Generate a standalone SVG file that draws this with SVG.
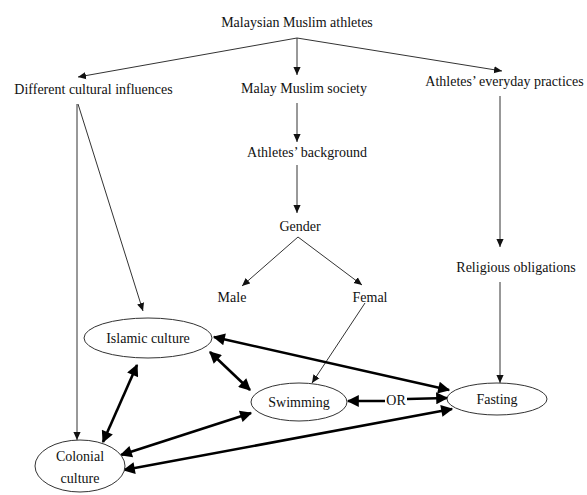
<svg xmlns="http://www.w3.org/2000/svg" width="587" height="495" viewBox="0 0 587 495">
<style>
text{font-family:'Liberation Serif','Times New Roman','DejaVu Serif',serif;font-size:14px;fill:#111;text-anchor:middle}
.thin{stroke:#333;stroke-width:1;fill:none}
.thick{stroke:#000;stroke-width:2.6;fill:none}
ellipse{fill:#fff;stroke:#333;stroke-width:1}
</style>
<defs>
<marker id="a" viewBox="0 0 10 10" refX="10" refY="5" markerUnits="userSpaceOnUse" markerWidth="8" markerHeight="8" orient="auto-start-reverse">
<path d="M0,0.5 L10,5 L0,9.5 z" fill="#111"/>
</marker>
<marker id="b" viewBox="0 0 10 10" refX="9" refY="5" markerUnits="userSpaceOnUse" markerWidth="13" markerHeight="12" orient="auto-start-reverse">
<path d="M0,0 L10,5 L0,10 z" fill="#000"/>
</marker>
</defs>
<g id="connectors">
<path class="thin" d="M297,38 L78,77" marker-end="url(#a)"/>
<path class="thin" d="M297,38 L297,75" marker-end="url(#a)"/>
<path class="thin" d="M297,38 L502,71" marker-end="url(#a)"/>
<path class="thin" d="M77,104 L77,440" marker-end="url(#a)"/>
<path class="thin" d="M78,104 L143,311" marker-end="url(#a)"/>
<path class="thin" d="M297,103 L297,142" marker-end="url(#a)"/>
<path class="thin" d="M297,165 L297,213" marker-end="url(#a)"/>
<path class="thin" d="M298,237 L242,286" marker-end="url(#a)"/>
<path class="thin" d="M298,237 L362,285" marker-end="url(#a)"/>
<path class="thin" d="M365,303 L312,383" marker-end="url(#a)"/>
<path class="thin" d="M500,96 L500,247" marker-end="url(#a)"/>
<path class="thin" d="M500,282 L500,383" marker-end="url(#a)"/>
<path class="thick" d="M214,337 L449,390" marker-start="url(#b)" marker-end="url(#b)"/>
<path class="thick" d="M210,352 L250,390" marker-start="url(#b)" marker-end="url(#b)"/>
<path class="thick" d="M137,365 L103,442" marker-start="url(#b)" marker-end="url(#b)"/>
<path class="thick" d="M121,455 L251,413" marker-start="url(#b)" marker-end="url(#b)"/>
<path class="thick" d="M124,470 L452,409" marker-start="url(#b)" marker-end="url(#b)"/>
<path class="thick" d="M348,401 L385,401" marker-start="url(#b)"/>
<path class="thick" d="M407,399 L447,398" marker-end="url(#b)"/>
<text x="396" y="405">OR</text>
</g>
<g id="n-title"><text x="297" y="27">Malaysian Muslim athletes</text></g>
<g id="n-cultural"><text x="93.5" y="94">Different cultural influences</text></g>
<g id="n-society"><text x="304" y="93">Malay Muslim society</text></g>
<g id="n-practices"><text x="504.5" y="86">Athletes’ everyday practices</text></g>
<g id="n-background"><text x="307" y="157">Athletes’ background</text></g>
<g id="n-gender"><text x="300" y="231">Gender</text></g>
<g id="n-male"><text x="232" y="302">Male</text></g>
<g id="n-femal"><text x="370" y="302">Femal</text></g>
<g id="n-religious"><text x="516" y="272">Religious obligations</text></g>
<g id="n-islamic"><ellipse cx="148" cy="338" rx="64" ry="20"/><text x="148" y="343">Islamic culture</text></g>
<g id="n-swimming"><ellipse cx="299" cy="402" rx="48" ry="19"/><text x="299" y="407">Swimming</text></g>
<g id="n-fasting"><ellipse cx="497" cy="399" rx="50" ry="16"/><text x="497" y="404">Fasting</text></g>
<g id="n-colonial"><ellipse cx="80" cy="466" rx="45" ry="26"/><text x="80" y="461">Colonial</text><text x="80" y="483">culture</text></g>
</svg>
